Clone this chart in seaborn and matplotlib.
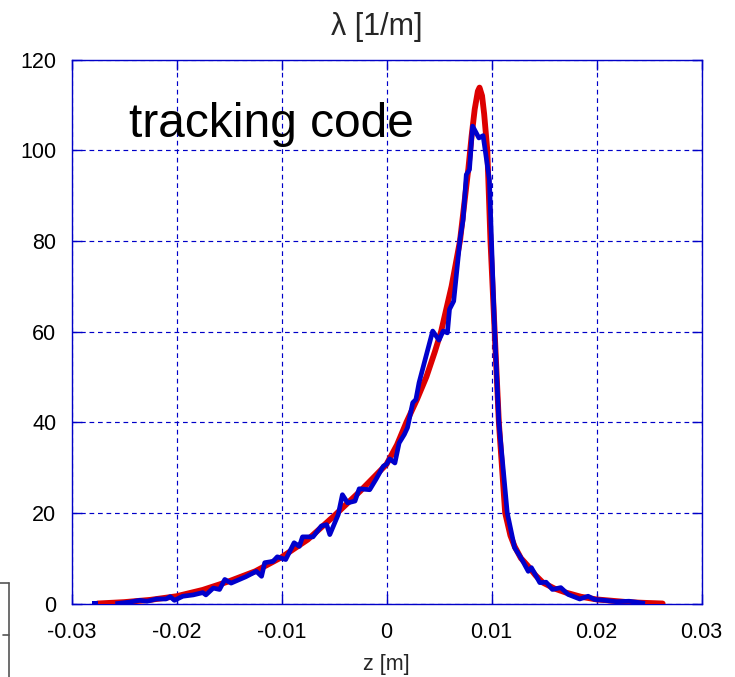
import numpy as np
import pandas as pd
import matplotlib
matplotlib.use("Agg")
import matplotlib.pyplot as plt
from matplotlib.lines import Line2D
import seaborn as sns

# ---- data ----
red_z = [-0.0275, -0.025, -0.0225, -0.02, -0.0175, -0.015, -0.0125, -0.01, -0.0075, -0.005,
         -0.0025, 0.0, 0.001, 0.0019, 0.0029, 0.0038, 0.0046, 0.0052, 0.0058, 0.0062,
         0.0066, 0.0070, 0.0074, 0.0078, 0.0081, 0.0084, 0.0087, 0.00886, 0.0091, 0.0093,
         0.0096, 0.0099, 0.0103, 0.0107, 0.0110, 0.0113, 0.0118, 0.0122, 0.0128, 0.0135,
         0.0142, 0.0149, 0.0160, 0.0171, 0.0185, 0.0200, 0.0215, 0.0230, 0.0245, 0.0263]
red_y = [0, 0.3, 0.8, 1.6, 3.0, 4.9, 7.1, 10.2, 14.1, 19.3,
         24.8, 30.7, 35, 40, 45, 50, 55.5, 60, 66, 70,
         75, 80, 88, 96, 103, 109, 113, 113.8, 112, 108,
         100, 80, 60, 40, 30, 20, 15, 12.6, 10, 8.2,
         6.2, 4.6, 3.3, 2.4, 1.5, 0.9, 0.6, 0.3, 0.15, 0]

blue_z = [-0.0256, -0.0245, -0.0235, -0.0228, -0.0219, -0.0210, -0.0206, -0.0202, -0.0194, -0.0184,
          -0.0175, -0.0172, -0.0165, -0.0159, -0.0154, -0.0148, -0.0134, -0.0124, -0.0119, -0.0116,
          -0.0108, -0.0104, -0.0096, -0.0088, -0.0083, -0.0080, -0.0070, -0.0062, -0.0057, -0.0054,
          -0.0046, -0.0042, -0.0037, -0.0030, -0.0026, -0.0016, -0.0010, -0.0003, 0.0000, 0.0003,
          0.0008, 0.0012, 0.0017, 0.0020, 0.0025, 0.0028, 0.0031, 0.0036, 0.0044, 0.0050,
          0.0054, 0.0058, 0.0060, 0.0064, 0.0070, 0.0073, 0.0076, 0.0079, 0.0082, 0.0088,
          0.0092, 0.0098, 0.0100, 0.0103, 0.0107, 0.0115, 0.0122, 0.0128, 0.0135, 0.0138,
          0.0146, 0.0152, 0.0158, 0.0166, 0.0173, 0.0184, 0.0192, 0.0198, 0.0208, 0.0219,
          0.0231, 0.0244]
blue_y = [0, 0.3, 0.7, 0.5, 1.0, 1.0, 1.5, 0.7, 1.6, 1.9,
          2.4, 1.9, 3.4, 3.1, 5.3, 4.5, 5.9, 7.1, 6.0, 9.0,
          9.3, 10.3, 9.7, 13.4, 12.6, 14.7, 14.7, 17.1, 17.4, 15.2,
          19.6, 24.0, 22.2, 22.6, 25.3, 25.1, 27.4, 30.3, 30.7, 31.9,
          31.0, 35.4, 37.3, 38.8, 44.3, 45.0, 48.7, 53.1, 60.1, 58.1,
          60.1, 59.7, 64.9, 66.7, 80.3, 84.7, 94.6, 95.7, 105.3, 102.7,
          103.2, 93.5, 80, 60, 40, 20, 12.3, 10.1, 7.1, 7.9,
          4.6, 4.7, 3.1, 3.5, 2.0, 1.0, 1.6, 0.9, 0.7, 0.4,
          0.5, 0.1]
blue_start_z = [-0.0278]
blue_start_y = [0.0]

x_ticks = [-0.03, -0.02, -0.01, 0, 0.01, 0.02, 0.03]
x_ticklabels = ["-0.03", "-0.02", "-0.01", "0", "0.01", "0.02", "0.03"]
y_ticks = [0, 20, 40, 60, 80, 100, 120]

# ---- style ----
sns.set_style("white")
plt.rcParams["font.family"] = ["Liberation Sans", "DejaVu Sans"]

AX_BLUE = "#0000c8"
RED = "#dd0000"
BLUE = "#0000cc"

fig = plt.figure(figsize=(7.35, 6.77), dpi=100)
ax = fig.add_axes([71.5 / 735, (677 - 603.5) / 677, 630 / 735, 544 / 677])

red_df = pd.DataFrame({"z": red_z, "lam": red_y})
blue_df = pd.DataFrame({"z": blue_z, "lam": blue_y})

sns.lineplot(data=red_df, x="z", y="lam", sort=False, estimator=None, color=RED,
             linewidth=4.2, ax=ax, zorder=3)
sns.lineplot(data=blue_df, x="z", y="lam", sort=False, estimator=None, color=BLUE,
             linewidth=3.4, ax=ax, zorder=4)
ax.lines[-1].set_solid_capstyle("projecting")
sns.scatterplot(x=blue_start_z, y=blue_start_y, color=BLUE, marker="s", s=14,
                linewidth=0, ax=ax, zorder=5)

ax.set_xlim(-0.03, 0.03)
ax.set_ylim(0, 120)
ax.set_xticks(x_ticks)
ax.set_xticklabels(x_ticklabels)
ax.set_yticks(y_ticks)

ax.grid(True, color=AX_BLUE, linestyle=(0, (4, 3.2)), linewidth=0.85)
ax.set_axisbelow(True)
for sp in ax.spines.values():
    sp.set_visible(True)
    sp.set_color(AX_BLUE)
    sp.set_linewidth(1.0)

ax.tick_params(axis="both", which="major", direction="in", length=7, width=1.0,
               color=AX_BLUE, labelsize=15.5, labelcolor="black",
               top=True, right=True, bottom=True, left=True)
ax.tick_params(axis="x", pad=13)
ax.tick_params(axis="y", pad=11)

ax.set_xlabel("z [m]", fontsize=15.5, labelpad=8)
ax.set_ylabel("")
ax.set_title("λ [1/m]", fontsize=22, pad=18, x=0.484)

ax.text(-0.0245, 103, "tracking code", fontsize=34.5, va="baseline", ha="left",
        color="black", zorder=6)

# fragment of a neighbouring frame at the lower-left edge
gray = "#555555"
def px(x, y):
    return (x / 735, 1 - y / 677)
for (x0, y0), (x1, y1) in [((0, 583), (9, 583)), ((9, 583), (9, 677)), ((3, 635), (9, 635))]:
    a, b = px(x0, y0)
    c, d = px(x1, y1)
    fig.add_artist(Line2D([a, c], [b, d], color=gray, linewidth=1.2))

fig.savefig("out.png", dpi=100)
